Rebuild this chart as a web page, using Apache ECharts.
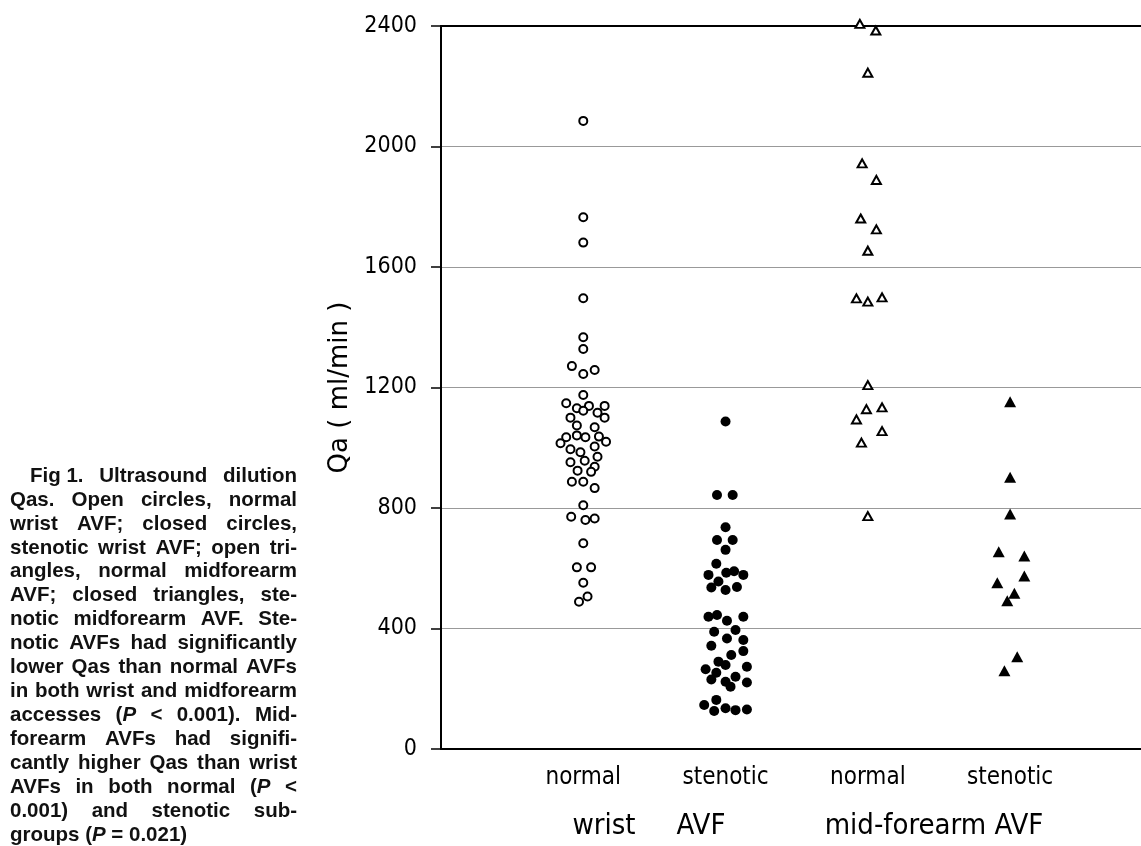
<!DOCTYPE html>
<html>
<head>
  <meta charset="utf-8">
  <script src="https://cdn.jsdelivr.net/npm/echarts@6/dist/echarts.min.js"></script>
</head>
<body style="margin:0;background:#fff;">
  <div id="id_chart" style="width:1141px;height:846px;"></div>

  <script type="text/javascript">
    // x axis: groups sit at 1..4, jitter is the sideways spread of each dot
    var groupNames = ['normal', 'stenotic', 'normal', 'stenotic'];
    var yMax = 2400, yStep = 400;

    // open circles, normal wrist AVF
    var wristNormalQa = [2085, 1765, 1681, 1496, 1367, 1328, 1271, 1245, 1258, 1175, 1148, 1131, 1139, 1123, 1139, 1116,
      1100, 1100, 1074, 1068, 1035, 1041, 1035, 1037, 1020, 1015, 995, 1004, 985, 970, 957, 952, 937, 924, 920,
      887, 887, 866, 809, 771, 760, 765, 683, 603, 603, 552, 506, 489];
    var wristNormalJitter = [0, 0, 0, 0, 0, 0, -0.08, 0, 0.08, 0, -0.12, -0.045, 0.04, 0, 0.15, 0.10,
      -0.09, 0.15, -0.045, 0.08, -0.12, -0.045, 0.015, 0.11, 0.16, -0.16, -0.09, 0.08, -0.02, 0.10, 0.01, -0.09, 0.08, -0.04, 0.055,
      -0.08, 0, 0.08, 0, -0.085, 0.015, 0.08, 0, -0.045, 0.055, 0, 0.03, -0.03];

    // closed circles, stenotic wrist AVF
    var wristStenoticQa = [1087, 843, 843, 736, 694, 694, 661, 615, 585, 590, 578, 578, 556, 536, 538, 528,
      439, 445, 426, 439, 389, 395, 367, 362, 343, 325, 290, 312, 265, 279, 273, 253, 231, 240, 223, 207, 221,
      163, 146, 126, 135, 129, 131];
    var wristStenoticJitter = [0, -0.06, 0.05, 0, -0.06, 0.05, 0, -0.065, 0.005, 0.06, -0.12, 0.125, -0.05, -0.10, 0.08, 0,
      -0.12, -0.06, 0.01, 0.125, -0.08, 0.07, 0.01, 0.125, -0.10, 0.125, -0.05, 0.04, -0.14, 0, 0.15, -0.065, -0.10, 0.07, 0, 0.035, 0.15,
      -0.065, -0.15, -0.08, 0, 0.07, 0.15];

    // open triangles, normal mid-forearm AVF
    var midNormalQa = [2407, 2385, 2245, 1944, 1889, 1761, 1725, 1654, 1496, 1485, 1499, 1208, 1128, 1134, 1094, 1055, 1017, 773];
    var midNormalJitter = [-0.056, 0.056, 0, -0.04, 0.06, -0.05, 0.06, 0, -0.08, 0, 0.1, 0, -0.01, 0.1, -0.08, 0.1, -0.045, 0];

    // closed triangles, stenotic mid-forearm AVF
    var midStenoticQa = [1153, 902, 780, 655, 641, 574, 552, 517, 492, 306, 260];
    var midStenoticJitter = [0, 0, 0, -0.08, 0.1, 0.1, -0.09, 0.03, -0.02, 0.05, -0.04];

    var captionLines = [
      'Fig\u00a01. Ultrasound dilution',
      'Qas. Open circles, normal',
      'wrist AVF; closed circles,',
      'stenotic wrist AVF; open tri-',
      'angles, normal midforearm',
      'AVF; closed triangles, ste-',
      'notic midforearm AVF. Ste-',
      'notic AVFs had significantly',
      'lower Qas than normal AVFs',
      'in both wrist and midforearm',
      'accesses (*P* < 0.001). Mid-',
      'forearm AVFs had signifi-',
      'cantly higher Qas than wrist',
      'AVFs in both normal (*P* <',
      '0.001) and stenotic sub-',
      'groups (*P* = 0.021)'
    ];

    var axisFont = '"DejaVu Sans Condensed", "Liberation Sans Narrow", "DejaVu Sans", sans-serif';

    function points(group, jitter, qa) {
      return qa.map(function (v, i) { return [group + jitter[i], v]; });
    }

    // justified bold caption, one text per word
    function captionGraphics() {
      var cv = document.createElement('canvas').getContext('2d');
      var size = 20.5, fam = '"Liberation Sans", Arial, sans-serif';
      var left = 10, right = 297, top = 476, step = 23.95;
      var out = [];
      function wordWidth(w) {
        var sum = 0;
        w.split('*').forEach(function (p, k) {
          cv.font = (k % 2 ? 'italic ' : '') + 'bold ' + size + 'px ' + fam;
          sum += cv.measureText(p).width;
        });
        return sum;
      }
      cv.font = 'bold ' + size + 'px ' + fam;
      var space = cv.measureText(' ').width;
      captionLines.forEach(function (line, li) {
        var words = line.split(' ');
        var widths = words.map(wordWidth);
        var total = widths.reduce(function (a, b) { return a + b; }, 0);
        var indent = li === 0 ? 20 : 0;
        var last = li === captionLines.length - 1;
        var gap = last ? space : (right - left - indent - total) / (words.length - 1);
        var x = left + indent;
        words.forEach(function (w, k) {
          out.push({
            type: 'text',
            x: x,
            y: top + li * step,
            style: {
              text: w.replace(/\*([^*]+)\*/g, '{i|$1}'),
              fill: '#111',
              fontSize: size,
              fontWeight: 'bold',
              fontFamily: fam,
              verticalAlign: 'middle',
              rich: {
                i: { fontSize: size, fontWeight: 'bold', fontStyle: 'italic', fontFamily: fam, fill: '#111' }
              }
            }
          });
          x += widths[k] + gap;
        });
      });
      return out;
    }

    function main() {
      var myChart = echarts.init(document.getElementById('id_chart'));
      var titleStyle = { fontSize: 29, fontFamily: axisFont, fill: '#000', align: 'center', verticalAlign: 'middle' };
      var groupTitles = [
        { type: 'text', x: 604, y: 826, style: Object.assign({ text: 'wrist' }, titleStyle) },
        { type: 'text', x: 701, y: 826, style: Object.assign({ text: 'AVF' }, titleStyle) },
        { type: 'text', x: 934, y: 826, style: Object.assign({ text: 'mid-forearm AVF' }, titleStyle) }
      ];

      var option = {
        animation: false,
        backgroundColor: '#fff',
        grid: { left: 441, right: 0, top: 26, bottom: 97 },
        xAxis: [{
          type: 'value',
          min: 0,
          max: 4.92,
          interval: 1,
          axisLine: { lineStyle: { color: '#000', width: 2 } },
          axisTick: { show: false },
          splitLine: { show: false },
          axisLabel: {
            margin: 17,
            fontSize: 24,
            fontFamily: axisFont,
            color: '#000',
            showMaxLabel: false,
            formatter: function (v) { return groupNames[Math.round(v) - 1] || ''; }
          }
        }, {
          type: 'value',
          position: 'top',
          min: 0,
          max: 4.92,
          axisLine: { show: true, lineStyle: { color: '#000', width: 2 } },
          axisTick: { show: false },
          axisLabel: { show: false },
          splitLine: { show: false }
        }],
        yAxis: {
          type: 'value',
          min: 0,
          max: yMax,
          interval: yStep,
          name: 'Qa ( ml/min )',
          nameLocation: 'middle',
          nameGap: 78,
          nameTextStyle: { fontSize: 26, fontFamily: '"DejaVu Sans", sans-serif', color: '#000' },
          axisLine: { show: true, lineStyle: { color: '#000', width: 2 } },
          axisTick: { show: true, length: 10, lineStyle: { color: '#000', width: 1.5 } },
          axisLabel: {
            margin: 24,
            fontSize: 23,
            fontFamily: axisFont,
            color: '#000',
            formatter: function (v) { return String(v); }
          },
          splitLine: { show: true, lineStyle: { color: '#999', width: 1 } }
        },
        graphic: captionGraphics().concat(groupTitles),
        series: [{
          type: 'scatter',
          clip: false,
          symbol: 'circle',
          symbolSize: 8,
          itemStyle: { color: '#fff', borderColor: '#000', borderWidth: 2, opacity: 1 },
          data: points(1, wristNormalJitter, wristNormalQa)
        }, {
          type: 'scatter',
          clip: false,
          symbol: 'circle',
          symbolSize: 10,
          itemStyle: { color: '#000', opacity: 1 },
          data: points(2, wristStenoticJitter, wristStenoticQa)
        }, {
          type: 'scatter',
          clip: false,
          symbol: 'triangle',
          symbolSize: [9, 8],
          itemStyle: { color: '#fff', borderColor: '#000', borderWidth: 2, opacity: 1 },
          data: points(3, midNormalJitter, midNormalQa)
        }, {
          type: 'scatter',
          clip: false,
          symbol: 'triangle',
          symbolSize: [12, 11],
          itemStyle: { color: '#000', opacity: 1 },
          data: points(4, midStenoticJitter, midStenoticQa)
        }]
      };
      myChart.setOption(option);
    }

    main();
  </script>
</body>
</html>
